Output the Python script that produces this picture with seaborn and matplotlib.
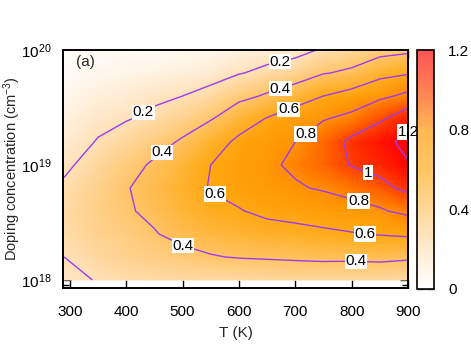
import numpy as np
import matplotlib
matplotlib.use("Agg")
import matplotlib.pyplot as plt
import matplotlib.colors as mcolors
from matplotlib.ticker import FixedLocator, LogLocator, NullFormatter
import seaborn as sns

# grid
temps = [290, 350, 400, 450, 500, 550, 600, 650, 700, 750, 800, 850, 900]
log_doping = [18.0, 18.2, 18.4, 18.6, 18.8, 19.0, 19.2, 19.4, 19.6, 19.8, 20.0]

# ZT per temperature, bottom (1e18) to top (1e20)
zt_290 = [0.15, 0.20, 0.23, 0.24, 0.22, 0.17, 0.12, 0.085, 0.055, 0.03, 0.01]
zt_350 = [0.21, 0.26, 0.30, 0.32, 0.31, 0.27, 0.21, 0.15, 0.10, 0.05, 0.02]
zt_400 = [0.23, 0.30, 0.34, 0.38, 0.39, 0.35, 0.27, 0.19, 0.13, 0.07, 0.03]
zt_450 = [0.24, 0.33, 0.39, 0.44, 0.46, 0.42, 0.34, 0.24, 0.16, 0.08, 0.03]
zt_500 = [0.25, 0.36, 0.45, 0.51, 0.53, 0.51, 0.42, 0.30, 0.20, 0.10, 0.04]
zt_550 = [0.25, 0.39, 0.49, 0.56, 0.61, 0.60, 0.53, 0.39, 0.25, 0.13, 0.05]
zt_600 = [0.25, 0.41, 0.52, 0.59, 0.67, 0.68, 0.63, 0.51, 0.35, 0.19, 0.08]
zt_650 = [0.26, 0.42, 0.54, 0.64, 0.73, 0.76, 0.71, 0.61, 0.42, 0.24, 0.11]
zt_700 = [0.27, 0.43, 0.55, 0.67, 0.78, 0.84, 0.80, 0.69, 0.50, 0.29, 0.14]
zt_750 = [0.27, 0.44, 0.57, 0.70, 0.82, 0.91, 0.90, 0.79, 0.60, 0.39, 0.22]
zt_800 = [0.26, 0.44, 0.59, 0.74, 0.87, 1.01, 1.04, 0.85, 0.66, 0.43, 0.27]
zt_850 = [0.26, 0.45, 0.61, 0.78, 0.94, 1.08, 1.14, 0.97, 0.76, 0.53, 0.33]
zt_900 = [0.25, 0.43, 0.63, 0.85, 1.05, 1.19, 1.25, 1.12, 0.84, 0.58, 0.36]

levels = [0.2, 0.4, 0.6, 0.8, 1.0, 1.2]
cbar_ticks = [0, 0.4, 0.8, 1.2]
x_ticks = [300, 400, 500, 600, 700, 800, 900]

# where the contour labels sit (T, log10 n)
label_spots = [(673, 19.90), (428, 19.48),
               (457, 19.15), (673, 19.67), (501, 18.30), (808, 18.17),
               (687, 19.50), (555, 18.72), (824, 18.41),
               (714, 19.30), (810, 18.65),
               (827, 18.90),
               (900, 19.30)]


def main():
    sns.set_theme(style="ticks")
    plt.rcParams['font.family'] = ['Liberation Sans', 'DejaVu Sans']
    plt.rcParams['mathtext.fontset'] = 'custom'
    plt.rcParams['mathtext.rm'] = 'Liberation Sans'
    plt.rcParams['mathtext.it'] = 'Liberation Sans:italic'
    plt.rcParams['mathtext.default'] = 'regular'

    palette = ["#ffffff", "#ffe1b8", "#ffc467", "#ffa810", "#ff9400", "#ff4000", "#ff0000"]
    cmap = sns.blend_palette(palette, as_cmap=True)
    # colour box is drawn washed out
    light = [tuple(np.array(mcolors.to_rgb(c)) * 0.667 + 0.333) for c in palette]
    bar_cmap = sns.blend_palette(light, as_cmap=True)
    norm = mcolors.Normalize(vmin=0, vmax=1.2)

    zt = np.column_stack([zt_290, zt_350, zt_400, zt_450, zt_500, zt_550, zt_600,
                          zt_650, zt_700, zt_750, zt_800, zt_850, zt_900])
    doping = 10.0 ** np.array(log_doping)

    fig = plt.figure(figsize=(4.71, 3.55), dpi=100)
    ax = fig.add_axes([63 / 471, 1 - 288 / 355, 345 / 471, 238 / 355])
    cax = fig.add_axes([417 / 471, 1 - 289 / 355, 17 / 471, 239 / 355])

    ax.set_yscale('log')
    ax.set_xlim(288, 900)
    ax.set_ylim(10 ** 17.93, 1e20)

    ax.pcolormesh(temps, doping, zt, cmap=cmap, norm=norm, shading='gouraud', zorder=1)
    cs = ax.contour(temps, doping, zt, levels=levels, colors='#9b3cf0', linewidths=1.0, zorder=2)
    spots = [(t, 10 ** n) for t, n in label_spots]
    texts = ax.clabel(cs, levels, inline=False, fmt='%g', fontsize=11, colors='black', manual=spots)
    for t in texts:
        t.set_rotation(0)
        t.set_zorder(5)
        t.set_bbox(dict(facecolor='white', edgecolor='none', pad=0.6))
        t.set_clip_on(False)

    ax.xaxis.set_major_locator(FixedLocator(x_ticks))
    ax.yaxis.set_major_locator(LogLocator(base=10, numticks=10))
    ax.yaxis.set_minor_locator(LogLocator(base=10, subs=np.arange(2, 10), numticks=20))
    ax.yaxis.set_minor_formatter(NullFormatter())
    ax.tick_params(axis='both', which='both', direction='in', top=True, right=True,
                   colors='black', labelsize=11)
    ax.tick_params(which='major', length=6, width=1.0)
    ax.tick_params(which='minor', length=4, width=1.0)
    ax.tick_params(axis='x', pad=12)
    ax.tick_params(axis='y', pad=8)
    for s in ax.spines.values():
        s.set_linewidth(1.4)
        s.set_color('black')
        s.set_zorder(6)

    ax.set_xlabel('T (K)', fontsize=11)
    ax.set_ylabel('Doping concentration (cm$^{-3}$)', fontsize=10.5)
    ax.xaxis.set_label_coords(0.5, -0.16)
    ax.yaxis.set_label_coords(-0.116, 0.5)
    ax.text(0.064, 0.95, '(a)', transform=ax.transAxes, fontsize=11, ha='center', va='center', zorder=7)

    sm = plt.cm.ScalarMappable(norm=norm, cmap=bar_cmap)
    cb = fig.colorbar(sm, cax=cax)
    cb.set_ticks(cbar_ticks)
    cb.set_ticklabels(['0', '0.4', '0.8', '1.2'])
    cb.outline.set_linewidth(1.2)
    cb.outline.set_edgecolor('black')
    cax.tick_params(which='major', direction='in', left=True, right=True, length=6,
                    width=1.0, colors='#555555', labelcolor='black', labelsize=11, pad=10)
    cax.minorticks_off()

    fig.savefig('out.png', dpi=100)


if __name__ == '__main__':
    main()
